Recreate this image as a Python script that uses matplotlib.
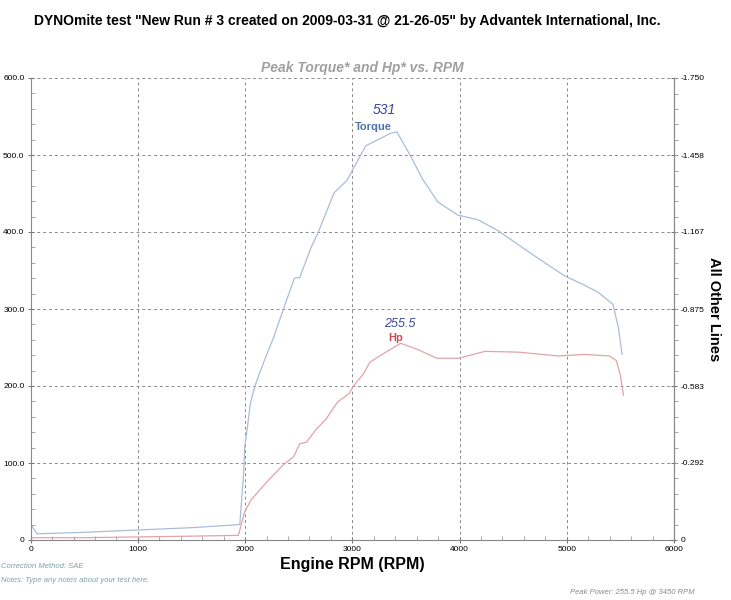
import numpy as np
import matplotlib.pyplot as plt
from matplotlib.ticker import MultipleLocator, FixedLocator

plt.rcParams['font.family'] = ['Liberation Sans', 'DejaVu Sans']

# torque curve (lb-ft) vs rpm
tq_rpm = [0, 60, 500, 1000, 1500, 1950, 1986, 1996, 2022, 2048, 2091, 2179, 2268,
          2370, 2460, 2510, 2615, 2680, 2830, 2950, 3125, 3170, 3354, 3415, 3542,
          3654, 3797, 3983, 4169, 4356, 4667, 4979, 5134, 5290, 5431, 5481, 5516]
tq_val = [20, 8, 10, 13, 16, 20, 86, 121, 147, 177, 200, 233, 264,
          305, 340, 341, 380, 399, 451, 467, 512, 515, 528, 530, 499,
          469, 439, 422, 416, 402, 372, 343, 333, 322, 306, 276, 241]

# horsepower curve vs rpm
hp_rpm = [0, 500, 1000, 1500, 1937, 1994, 2054, 2206, 2359, 2451, 2510, 2572, 2664,
          2755, 2861, 2968, 3011, 3104, 3164, 3277, 3450, 3617, 3789, 3990, 4237,
          4547, 4919, 5166, 5400, 5462, 5500, 5529]
hp_val = [3, 3, 4, 5, 6, 36, 52, 76, 98, 108, 125, 127, 144,
          157, 179, 190, 200, 216, 231, 241, 255.5, 247, 236, 236, 245,
          244, 239, 241, 239, 233, 214, 188]

right_ticks = [0, 0.292, 0.583, 0.875, 1.167, 1.458, 1.750]
right_labels = ['0', '-0.292', '-0.583', '-0.875', '-1.167', '-1.458', '-1.750']

fig = plt.figure(figsize=(7.31, 6.0), dpi=100)
ax = fig.add_axes([0.042, 0.100, 0.880, 0.770])

ax.plot(tq_rpm, tq_val, color='#a9bdd6', lw=0.9)
ax.plot(hp_rpm, hp_val, color='#e3a3a8', lw=0.9)

ax.set_xlim(0, 6000)
ax.set_ylim(0, 600)
ax.xaxis.set_major_locator(MultipleLocator(1000))
ax.xaxis.set_minor_locator(MultipleLocator(200))
ax.yaxis.set_minor_locator(MultipleLocator(20))
ax.set_yticks([0, 100, 200, 300, 400, 500, 600])
ax.set_yticklabels(['0', '100.0', '200.0', '300.0', '400.0', '500.0', '600.0'])
ax.grid(True, which='major', ls=(0, (3, 3)), color='#8a8a8a', lw=0.7)
ax.tick_params(labelsize=6, length=5, color='#777777', direction='inout', pad=2)
ax.tick_params(which='minor', length=3, color='#999999', direction='in')
ax.spines['top'].set_visible(False)
for side in ['left', 'bottom', 'right']:
    ax.spines[side].set_color('#888888')
    ax.spines[side].set_linewidth(0.8)

ax.set_xlabel('Engine RPM (RPM)', fontsize=11.5, fontweight='bold', labelpad=3)

ax2 = ax.twinx()
ax2.set_ylim(0, 1.75)
ax2.yaxis.set_major_locator(FixedLocator(right_ticks))
ax2.set_yticklabels(right_labels)
ax2.yaxis.set_minor_locator(MultipleLocator(0.0583))
ax2.tick_params(labelsize=6, length=5, color='#777777', direction='inout', pad=2)
ax2.tick_params(which='minor', length=3, color='#999999', direction='out')
for side in ['top', 'left', 'bottom']:
    ax2.spines[side].set_visible(False)
ax2.spines['right'].set_color('#888888')
ax2.set_ylabel('All Other Lines', fontsize=10.5, fontweight='bold', rotation=-90, labelpad=12)

ax.text(3200, 533, 'Torque', color='#4f74a8', fontsize=8, fontweight='bold', ha='center')
ax.text(3400, 258, 'Hp', color='#d0484e', fontsize=8, fontweight='bold', ha='center')
ax.text(3300, 553, '531', color='#3848a0', fontsize=10, ha='center', style='italic')
ax.text(3440, 276, '255.5', color='#3848a0', fontsize=9, ha='center', style='italic')

fig.text(0.475, 0.965, 'DYNOmite test "New Run # 3 created on 2009-03-31 @ 21-26-05" by Advantek International, Inc.',
         ha='center', va='center', fontsize=10, fontweight='bold')
fig.text(0.495, 0.887, 'Peak Torque* and Hp* vs. RPM', ha='center', va='center',
         fontsize=10, fontweight='bold', style='italic', color='#a0a0a0')
fig.text(0.002, 0.053, 'Correction Method: SAE', fontsize=5.5, style='italic', color='#7f9fa6')
fig.text(0.002, 0.030, 'Notes: Type any notes about your test here.', fontsize=5.5, style='italic', color='#7f9fa6')
fig.text(0.95, 0.010, 'Peak Power: 255.5 Hp @ 3450 RPM', fontsize=5.5, style='italic',
         color='#8a8a8a', ha='right')

fig.savefig('out.png', dpi=100)
